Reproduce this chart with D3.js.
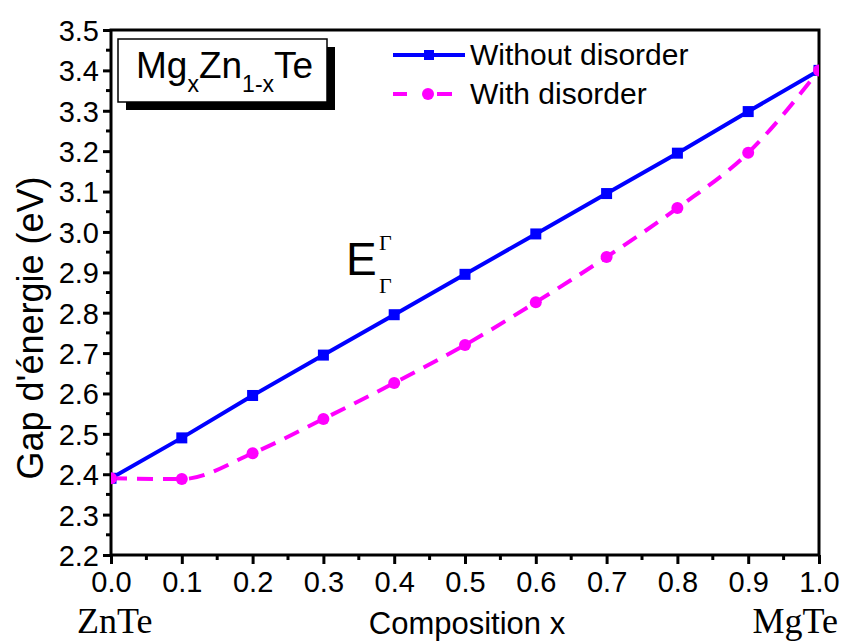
<!DOCTYPE html>
<html>
<head>
<meta charset="utf-8">
<script src="https://cdn.jsdelivr.net/npm/d3@7"></script>
<style>
html,body{margin:0;padding:0;background:#fff;}
svg{display:block;}
</style>
</head>
<body>
<svg id="chart" width="841" height="643" font-family="Arial, 'Liberation Sans', sans-serif"></svg>
<script>
// ---- data ----
const composition = [0.0, 0.1, 0.2, 0.3, 0.4, 0.5, 0.6, 0.7, 0.8, 0.9, 1.0];
const withoutDisorder = [2.39, 2.49, 2.595, 2.695, 2.795, 2.895, 2.995, 3.095, 3.195, 3.298, 3.40];
const withDisorder = [2.39, 2.388, 2.452, 2.537, 2.626, 2.72, 2.826, 2.938, 3.059, 3.196, 3.40];
const seriesNames = ["Without disorder", "With disorder"];
const xTicks = [0.0, 0.1, 0.2, 0.3, 0.4, 0.5, 0.6, 0.7, 0.8, 0.9, 1.0];
const yTicks = [2.2, 2.3, 2.4, 2.5, 2.6, 2.7, 2.8, 2.9, 3.0, 3.1, 3.2, 3.3, 3.4, 3.5];
const xDomain = [0, 1];
const yDomain = [2.2, 3.5];
const xTitle = "Composition x";
const yTitle = "Gap d'énergie (eV)";
const leftEnd = "ZnTe", rightEnd = "MgTe";

// ---- layout ----
const L = 111, R = 819, T = 30, B = 555;
const SANS = "Arial, 'Liberation Sans', sans-serif";
const SERIF = "'Times New Roman', 'Liberation Serif', serif";
const svg = d3.select("#chart");
const x = d3.scaleLinear().domain(xDomain).range([L, R]);
const y = d3.scaleLinear().domain(yDomain).range([B, T]);
const blue = "#0000ff", pink = "#ff00ff";

svg.append("defs").append("clipPath").attr("id", "clip")
  .append("rect").attr("x", L).attr("y", T).attr("width", R - L).attr("height", B - T);

// minor ticks
const xMinor = d3.range(0.05, 1.0, 0.1);
const yMinor = d3.range(2.25, 3.5, 0.1);
svg.append("g").selectAll("line").data(xMinor).join("line")
  .attr("x1", d => x(d)).attr("x2", d => x(d)).attr("y1", B).attr("y2", B + 5)
  .attr("stroke", "#000").attr("stroke-width", 3);
svg.append("g").selectAll("line").data(yMinor).join("line")
  .attr("y1", d => y(d)).attr("y2", d => y(d)).attr("x1", L).attr("x2", L - 5)
  .attr("stroke", "#000").attr("stroke-width", 3);

// axes
const xAxis = svg.append("g").attr("transform", `translate(0,${B})`)
  .call(d3.axisBottom(x).tickValues(xTicks).tickFormat(d3.format(".1f")).tickSize(9).tickPadding(7));
const yAxis = svg.append("g").attr("transform", `translate(${L},0)`)
  .call(d3.axisLeft(y).tickValues(yTicks).tickFormat(d3.format(".1f")).tickSize(8).tickPadding(4));
[xAxis, yAxis].forEach(g => {
  g.attr("font-family", SANS).attr("font-size", 29);
  g.select(".domain").remove();
  g.selectAll(".tick line").attr("stroke", "#000").attr("stroke-width", 3);
  g.selectAll(".tick text").attr("fill", "#000");
});
yAxis.selectAll(".tick text").attr("dy", "0.36em");

// frame
svg.append("rect").attr("x", L).attr("y", T).attr("width", R - L).attr("height", B - T)
  .attr("fill", "none").attr("stroke", "#000").attr("stroke-width", 3);

// series
const plot = svg.append("g").attr("clip-path", "url(#clip)");
const dataA = composition.map((c, i) => [c, withoutDisorder[i]]);
const dataB = composition.map((c, i) => [c, withDisorder[i]]);

plot.append("path").datum(dataA)
  .attr("d", d3.line().x(d => x(d[0])).y(d => y(d[1])))
  .attr("fill", "none").attr("stroke", blue).attr("stroke-width", 4);
plot.append("path").datum(dataB)
  .attr("d", d3.line().x(d => x(d[0])).y(d => y(d[1])).curve(d3.curveMonotoneX))
  .attr("fill", "none").attr("stroke", pink).attr("stroke-width", 4).attr("stroke-dasharray", "16,10");

plot.append("g").selectAll("rect").data(dataA).join("rect")
  .attr("x", d => x(d[0]) - 5.5).attr("y", d => y(d[1]) - 5.5).attr("width", 11).attr("height", 11)
  .attr("fill", blue);
plot.append("g").selectAll("circle").data(dataB).join("circle")
  .attr("cx", d => x(d[0])).attr("cy", d => y(d[1])).attr("r", 6)
  .attr("fill", pink);

// title box
svg.append("rect").attr("x", 126).attr("y", 47).attr("width", 209).attr("height", 63).attr("fill", "#000");
svg.append("rect").attr("x", 118).attr("y", 39).attr("width", 209).attr("height", 63)
  .attr("fill", "#fff").attr("stroke", "#000").attr("stroke-width", 1.5);
const tt = svg.append("text").attr("x", 136).attr("y", 78).attr("font-size", 37);
tt.append("tspan").text("Mg");
tt.append("tspan").attr("font-size", 23).attr("dy", 14).text("x");
tt.append("tspan").attr("dy", -14).text("Zn");
tt.append("tspan").attr("font-size", 23).attr("dy", 14).text("1-x");
tt.append("tspan").attr("dy", -14).text("Te");

// legend
const lg = svg.append("g");
lg.append("line").attr("x1", 393).attr("x2", 465).attr("y1", 55).attr("y2", 55)
  .attr("stroke", blue).attr("stroke-width", 4);
lg.append("rect").attr("x", 424).attr("y", 50).attr("width", 10).attr("height", 10).attr("fill", blue);
lg.append("text").attr("x", 470).attr("y", 65).attr("font-size", 30).text(seriesNames[0]);
lg.append("line").attr("x1", 393).attr("x2", 407).attr("y1", 94).attr("y2", 94)
  .attr("stroke", pink).attr("stroke-width", 4);
lg.append("line").attr("x1", 437).attr("x2", 452).attr("y1", 94).attr("y2", 94)
  .attr("stroke", pink).attr("stroke-width", 4);
lg.append("circle").attr("cx", 428).attr("cy", 94).attr("r", 6).attr("fill", pink);
lg.append("text").attr("x", 470).attr("y", 104).attr("font-size", 30).text(seriesNames[1]);

// E label
const el = svg.append("g");
el.append("text").attr("x", 346).attr("y", 275).attr("font-size", 46).text("E");
el.append("text").attr("x", 379).attr("y", 250).attr("font-size", 22)
  .attr("font-family", SERIF).text("Γ");
el.append("text").attr("x", 379).attr("y", 293).attr("font-size", 22)
  .attr("font-family", SERIF).text("Γ");

// axis titles
svg.append("text").attr("x", (L + R) / 2 + 2).attr("y", 634).attr("text-anchor", "middle")
  .attr("font-size", 31).text(xTitle);
svg.append("text").attr("transform", "translate(43,328) rotate(-90)").attr("text-anchor", "middle")
  .attr("font-size", 36).text(yTitle);
svg.append("text").attr("x", 77).attr("y", 633).attr("font-size", 36)
  .attr("font-family", SERIF).text(leftEnd);
svg.append("text").attr("x", 838).attr("y", 633).attr("text-anchor", "end").attr("font-size", 36)
  .attr("font-family", SERIF).text(rightEnd);
</script>
</body>
</html>
